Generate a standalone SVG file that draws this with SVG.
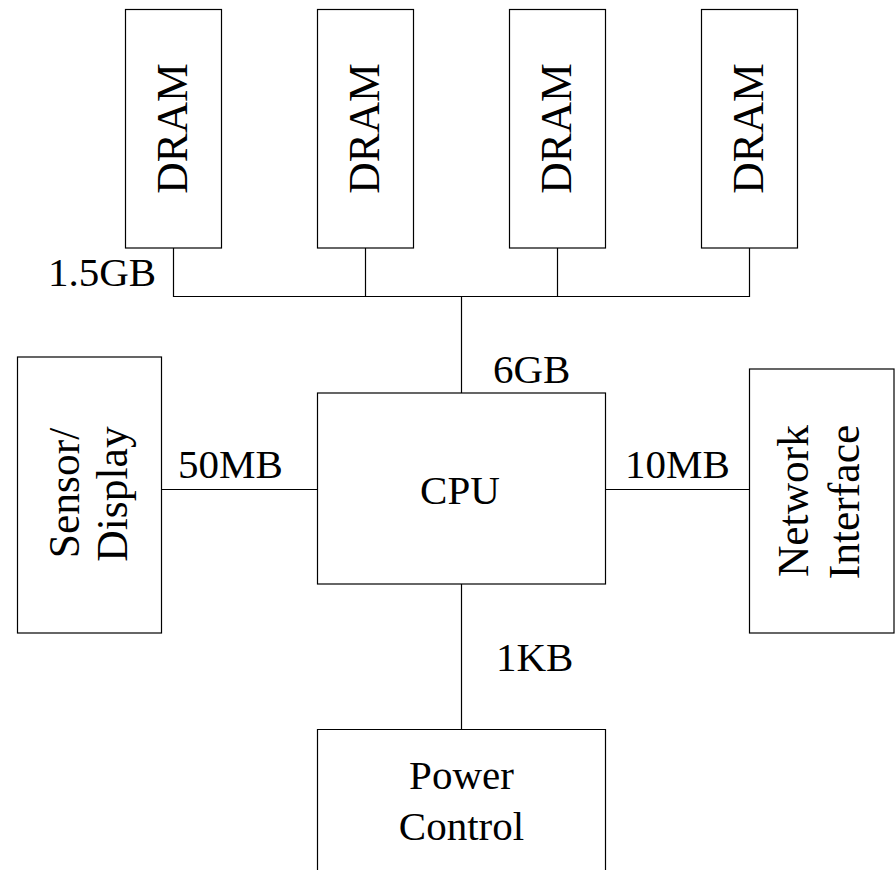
<svg xmlns="http://www.w3.org/2000/svg" width="895" height="870" viewBox="0 0 895 870">
  <style>
    .box { fill: #ffffff; stroke: #000000; stroke-width: 1.2; }
    .wire { fill: none; stroke: #000000; stroke-width: 1.2; }
    text { font-family: "Liberation Serif", "Times New Roman", serif; font-size: 41px; fill: #000000; }
    .mid { text-anchor: middle; }
    .vert { font-size: 43.5px; }
  </style>
  <rect width="895" height="870" fill="#ffffff"/>

  <!-- connectors -->
  <g id="connectors">
    <polyline class="wire" points="173.5,248 173.5,296.5 749.5,296.5 749.5,248"/>
    <line class="wire" x1="365.5" y1="248" x2="365.5" y2="296.5"/>
    <line class="wire" x1="557.5" y1="248" x2="557.5" y2="296.5"/>
    <line class="wire" x1="461.5" y1="296.5" x2="461.5" y2="393"/>
    <line class="wire" x1="161.5" y1="489.5" x2="317.5" y2="489.5"/>
    <line class="wire" x1="605.5" y1="489.5" x2="749.5" y2="489.5"/>
    <line class="wire" x1="461.5" y1="584" x2="461.5" y2="729"/>
  </g>

  <!-- connector labels -->
  <g id="labels">
    <text x="48" y="286">1.5GB</text>
    <text x="493" y="382.5">6GB</text>
    <text x="178" y="478">50MB</text>
    <text x="625" y="478">10MB</text>
    <text x="496" y="670.5">1KB</text>
  </g>

  <!-- memory modules -->
  <g id="dram1">
    <rect class="box" x="125.5" y="9.5" width="96" height="238.5"/>
    <text class="mid vert" transform="translate(187,128.5) rotate(-90)">DRAM</text>
  </g>
  <g id="dram2">
    <rect class="box" x="317.5" y="9.5" width="96" height="238.5"/>
    <text class="mid vert" transform="translate(379,128.5) rotate(-90)">DRAM</text>
  </g>
  <g id="dram3">
    <rect class="box" x="509.5" y="9.5" width="96" height="238.5"/>
    <text class="mid vert" transform="translate(571,128.5) rotate(-90)">DRAM</text>
  </g>
  <g id="dram4">
    <rect class="box" x="701.5" y="9.5" width="96" height="238.5"/>
    <text class="mid vert" transform="translate(763,128.5) rotate(-90)">DRAM</text>
  </g>

  <!-- processor -->
  <g id="cpu">
    <rect class="box" x="317.5" y="393" width="288" height="191"/>
    <text class="mid" x="460" y="503.5">CPU</text>
  </g>

  <!-- peripherals -->
  <g id="sensor-display">
    <rect class="box" x="17.5" y="357" width="144" height="276"/>
    <text class="mid vert" transform="translate(79,493) rotate(-90)">Sensor/</text>
    <text class="mid vert" transform="translate(127,494) rotate(-90)">Display</text>
  </g>
  <g id="network-interface">
    <rect class="box" x="749.5" y="369" width="144.5" height="264"/>
    <text class="mid vert" transform="translate(808,501) rotate(-90)">Network</text>
    <text class="mid vert" transform="translate(859,502) rotate(-90)">Interface</text>
  </g>
  <g id="power-control">
    <polyline class="box" points="317.5,871 317.5,729.5 605.5,729.5 605.5,871"/>
    <text class="mid" x="461.5" y="789">Power</text>
    <text class="mid" x="461.5" y="840">Control</text>
  </g>
</svg>
